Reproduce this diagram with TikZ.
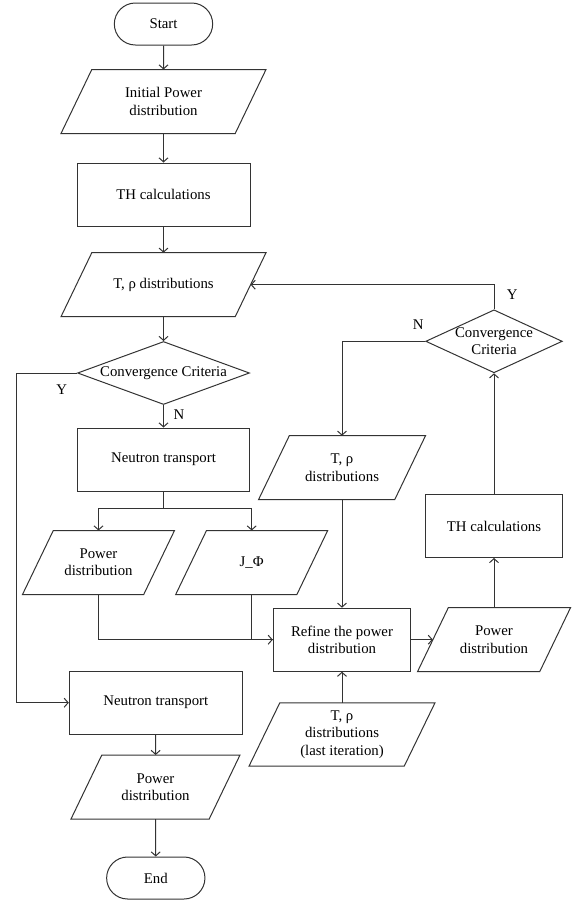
\documentclass[tikz,border=0pt]{standalone}
\usepackage{fontspec}
\setmainfont{Liberation Serif}
\usepackage{tikz}
\usetikzlibrary{positioning,shapes.geometric,shapes.misc,arrows.meta}

\begin{document}
\begin{tikzpicture}[x=1pt, y=-1pt, line width=1pt, draw=black!80,
        font=\fontsize{14.8}{17.3}\selectfont,
        term/.style={rounded rectangle, draw, minimum width=105pt, minimum height=42pt},
        proc/.style={rectangle, draw, align=center, minimum height=63pt},
        io/.style={rectangle, align=center, minimum height=63pt},
        cond/.style={diamond, draw, align=center, inner sep=-1.5pt, minimum height=63pt},
        flow/.style={-{Straight Barb[length=4pt,width=9pt]}}]
        \useasboundingbox (0,0) rectangle (574,902);
        \node[term] (start) at (163.5,24) {Start};
        \node[io, minimum width=173.2pt] (ip) at (163.5,101.5) {Initial Power\\distribution};
        \node[proc, minimum width=173pt] (th1) at (163.5,194.5) {TH calculations};
        \node[io, minimum width=173.2pt] (trho1) at (163.5,284.7) {T, ρ distributions};
        \node[cond, aspect=2.74, minimum width=172pt] (conv1) at (163.5,373) {Convergence Criteria};
        \node[proc, minimum width=172pt] (nt1) at (163.5,459.5) {Neutron transport};
        \node[io, minimum width=120.2pt] (pd1) at (98.5,562.5) {Power\\distribution};
        \node[io, minimum width=120.2pt] (jphi) at (251.7,562.5) {J\_Φ};
        \node[proc, minimum width=173pt] (nt2) at (155.8,702.7) {Neutron transport};
        \node[io, minimum width=137.2pt] (pd3) at (155.5,787) {Power\\distribution};
        \node[term] (end) at (155.8,878) {End};
        \node[cond, aspect=2.18, minimum width=136.6pt] (conv2) at (494,341.3) {Convergence\\Criteria};
        \node[io, minimum width=135.2pt] (trho2) at (342,467.7) {T, ρ\\distributions};
        \node[proc, minimum width=136.6pt] (th2) at (494,526) {TH calculations};
        \node[proc, minimum width=137.4pt] (refine) at (342,639.7) {Refine the power\\distribution};
        \node[io, minimum width=121.2pt] (pd2) at (494,639.7) {Power\\distribution};
        \node[io, minimum width=154.2pt, minimum height=62.4pt] (trho3) at (342,734.5) {T, ρ\\distributions\\(last iteration)};
        \foreach \n in {ip,trho1,pd1,jphi,pd3,trho2,pd2,trho3}
            \draw ([xshift=15.4pt]\n.north west) -- ([xshift=15.4pt]\n.north east)
                -- ([xshift=-15.4pt]\n.south east) -- ([xshift=-15.4pt]\n.south west) -- cycle;
        \node (y1) at (61.7,390) {Y};
        \node (n1) at (179,415) {N};
        \node (n2) at (418.3,325) {N};
        \node (y2) at (512.3,295) {Y};
        \coordinate (yturn) at (16.7,373);
        \coordinate (split) at (163.5,508.3);
        \draw[flow] (start) -- (ip);
        \draw[flow] (ip) -- (th1);
        \draw[flow] (th1) -- (trho1);
        \draw[flow] (trho1) -- (conv1);
        \draw[flow] (conv1) -- (nt1);
        \draw[flow] (conv1.west) -- (yturn) |- (nt2.west);
        \draw (nt1) -- (split);
        \draw[flow] (split) -| (pd1.north);
        \draw[flow] (split) -| (jphi.north);
        \draw (jphi.south) |- (refine.west);
        \draw[flow] (pd1.south) |- (refine.west);
        \draw[flow] (trho2) -- (refine);
        \draw[flow] (trho3) -- (refine);
        \draw[flow] (refine) -- (pd2);
        \draw[flow] (pd2) -- (th2);
        \draw[flow] (th2) -- (conv2);
        \draw[flow] (conv2.north) |- (trho1);
        \draw[flow] (conv2.west) -| (trho2.north);
        \draw[flow] (nt2) -- (pd3);
        \draw[flow] (pd3) -- (end);
    \end{tikzpicture}
\end{document}
